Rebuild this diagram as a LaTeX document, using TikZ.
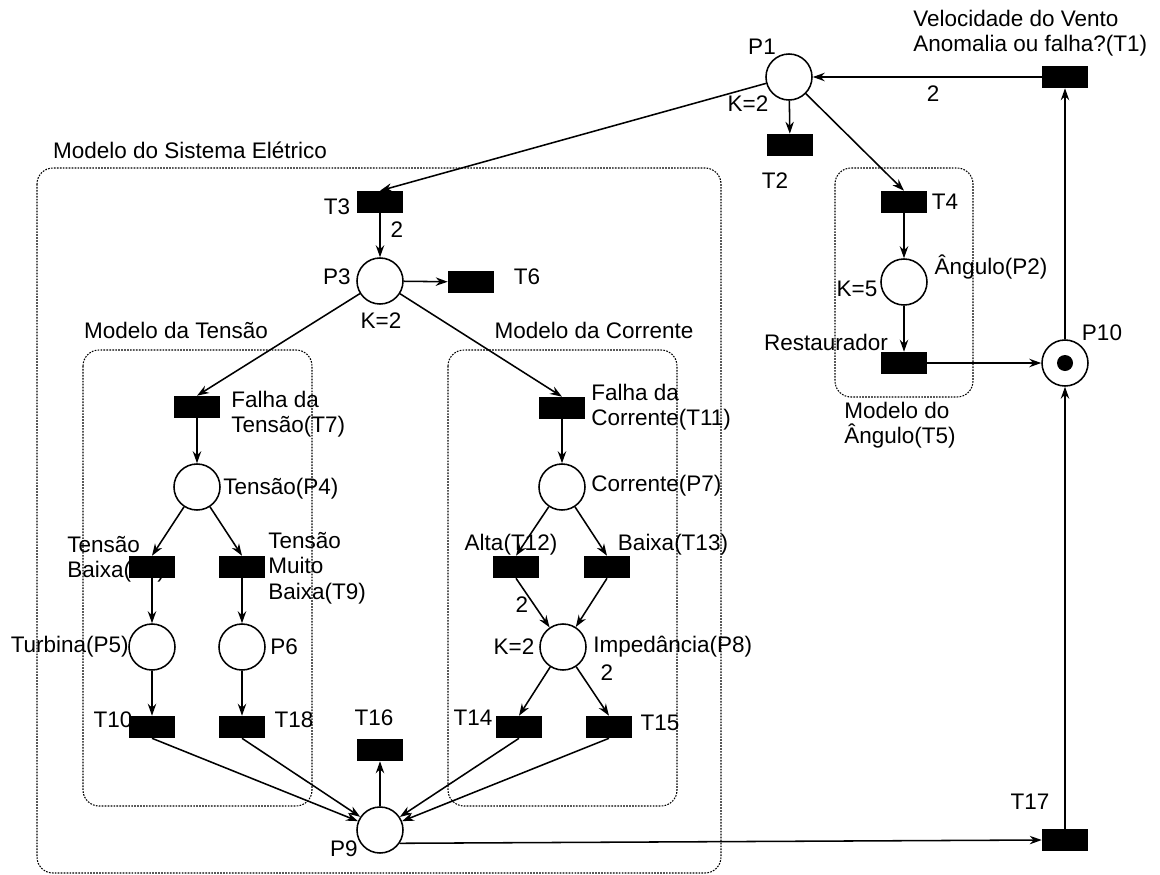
\documentclass[tikz,border=0pt]{standalone}
\usepackage{fontspec}
\setmainfont{Liberation Sans}
\usetikzlibrary{arrows.meta}

\begin{document}
\begin{tikzpicture}[x=0.025cm, y=-0.025cm, line join=round, >={Stealth[length=8.5pt,width=6pt]},
	font=\fontsize{16}{18}\selectfont,
	place/.style={circle, draw, line width=1.1pt, fill=white, minimum size=1.15cm, inner sep=0pt},
	trans/.style={rectangle, fill=black, minimum width=1.15cm, minimum height=0.55cm, inner sep=0pt},
	arc/.style={->, line width=1.1pt},
	lbl/.style={inner sep=0pt, align=left},
	modelo/.style={dash pattern=on 1.2pt off 0.9pt, line width=0.75pt, rounded corners=0.4cm}]
	\useasboundingbox (0,0) rectangle (1160,875);
	% modelos
	\draw[modelo] (37,168) rectangle (721,873);
	\draw[modelo] (83,350) rectangle (312,806);
	\draw[modelo] (448,350) rectangle (677,806);
	\draw[modelo] (835,168) rectangle (973,397);
	% textos
	\node[lbl, anchor=west] (vento) at (913,33) {Velocidade do Vento\\Anomalia ou falha?(T1)};
	\node[lbl] (lP1) at (762,47) {P1};
	\node[lbl] (lK1) at (748,104) {K=2};
	\node[lbl] (lw1) at (933,94) {2};
	\node[lbl] (lT2) at (775,181) {T2};
	\node[lbl] (lsis) at (190,150) {Modelo do Sistema Elétrico};
	\node[lbl] (lT3) at (337,207) {T3};
	\node[lbl] (lw3) at (397,230) {2};
	\node[lbl] (lP3) at (337,277) {P3};
	\node[lbl] (lK3) at (381,321) {K=2};
	\node[lbl] (lT6) at (527,277) {T6};
	\node[lbl] (lten) at (176,330) {Modelo da Tensão};
	\node[lbl] (lcor) at (594,330) {Modelo da Corrente};
	\node[lbl, anchor=west] (lT7) at (231,414) {Falha da\\Tensão(T7)};
	\node[lbl, anchor=west] (lP4) at (223,489) {Tensão(P4)};
	\node[lbl, anchor=west] (lT8) at (67,559) {Tensão\\Baixa(T8)};
	\node[lbl, anchor=west] (lT9) at (268,568) {Tensão\\Muito\\Baixa(T9)};
	\node[lbl, anchor=east] (lP5) at (129,647) {Turbina(P5)};
	\node[lbl, anchor=west] (lP6) at (270,647) {P6};
	\node[lbl] (lT10) at (113,720) {T10};
	\node[lbl] (lT18) at (294,720) {T18};
	\node[lbl] (lT16) at (374,718) {T16};
	\node[lbl] (lP9) at (344,849) {P9};
	\node[lbl, anchor=west] (lT11) at (591,407) {Falha da\\Corrente(T11)};
	\node[lbl, anchor=west] (lP7) at (591,486) {Corrente(P7)};
	\node[lbl] (lT12) at (511,545) {Alta(T12)};
	\node[lbl] (lT13) at (673,545) {Baixa(T13)};
	\node[lbl] (lw12) at (522,605) {2};
	\node[lbl] (lK8) at (514,647) {K=2};
	\node[lbl, anchor=west] (lP8) at (593,647) {Impedância(P8)};
	\node[lbl] (lw15) at (607,673) {2};
	\node[lbl] (lT14) at (473,718) {T14};
	\node[lbl] (lT15) at (660,723) {T15};
	\node[lbl] (lT4) at (945,202) {T4};
	\node[lbl] (lP2) at (991,267) {Ângulo(P2)};
	\node[lbl] (lK5) at (857,289) {K=5};
	\node[lbl] (lT5) at (826,342) {Restaurador};
	\node[lbl] (lang) at (900,425) {Modelo do\\Ângulo(T5)};
	\node[lbl] (lP10) at (1102,333) {P10};
	\node[lbl] (lT17) at (1030,802) {T17};
	% lugares
	\foreach \n/\x/\y in {P1/789/77, P2/904/282, P3/380/281, P4/197/487, P5/152/647, P6/242/647,
		P7/562/487, P8/563/647, P9/380/830, P10/1065/363}
		\node[place] (\n) at (\x,\y) {};
	\node[circle, fill=black, minimum size=0.4cm, inner sep=0pt] (marca) at (P10) {};
	% transicoes
	\foreach \n/\x/\y in {T1/1065/77, T2/790/145, T3/380/202, T4/904/202, T5/904/363, T6/471/282,
		T7/197/407, T8/152/567, T9/242/567, T10/152/727, T18/242/727, T16/380/750,
		T11/562/408, T12/516/567, T13/607/567, T14/519/727, T15/609/727, T17/1065/840}
		\node[trans] (\n) at (\x,\y) {};
	% arcos
	\foreach \a/\b in {T1/P1, P1/T2, P1/T3.north, P1/T4.north, T3/P3, P3/T6, P3/T7.north, P3/T11.north,
		T7/P4, P4/T8.north, P4/T9.north, T8/P5, T9/P6, P5/T10, P6/T18,
		T10.south/P9, T18.south/P9, T14.south/P9, T15.south/P9, P9/T16,
		T11/P7, P7/T12.north, P7/T13.north, T12.south/P8, T13.south/P8, P8/T14.north, P8/T15.north,
		T4/P2, P2/T5, T5/P10, T17/P10, P10/T1}
		\draw[arc] (\a) -- (\b);
	\draw[arc] (P9.-34) -- (T17.west);
\end{tikzpicture}
\end{document}
